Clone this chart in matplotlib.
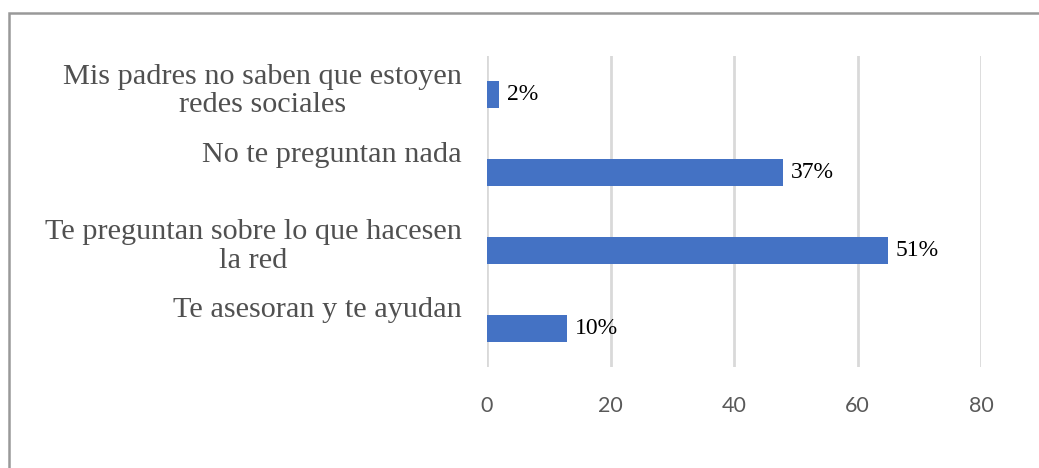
import matplotlib.pyplot as plt
from matplotlib.patches import Rectangle

categories = ["Mis padres no saben que estoyen\nredes sociales",
              "No te preguntan nada",
              "Te preguntan sobre lo que hacesen\nla red",
              "Te asesoran y te ayudan"]
values = [2, 48, 65, 13]
labels = ["2%", "37%", "51%", "10%"]
xticks = [0, 20, 40, 60, 80]

fig = plt.figure(figsize=(10.39, 4.68), dpi=100)
ax = fig.add_axes([487 / 1039, 1 - 367 / 468, (981 - 487) / 1039, (367 - 56) / 468])

# first category on top
ypos = list(range(len(categories)))[::-1]
ax.barh(ypos, values, height=0.35, color="#4472C4", zorder=3)

for y, v, lab in zip(ypos, values, labels):
    ax.text(v + 1.2, y, lab, va="center", ha="left", fontsize=17,
            family="Liberation Serif", color="black")

for y, cat in zip(ypos, categories):
    ax.text(-4.1, y + 0.40, cat, va="top", ha="right", fontsize=21.8,
            family="Liberation Serif", color="#505050", linespacing=1.13,
            multialignment="center")

ax.set_xlim(0, 80)
ax.set_ylim(-0.5, 3.5)
ax.set_xticks(xticks)
ax.set_yticks([])
ax.grid(axis="x", color="#d9d9d9", linewidth=2, zorder=0)
ax.tick_params(axis="x", length=0, pad=21, labelsize=15.5, labelcolor="#595959")
for t in ax.get_xticklabels():
    t.set_family("Lato")
for s in ax.spines.values():
    s.set_visible(False)

# outer chart border (right and bottom fall outside the image)
fig.patches.append(Rectangle((9 / 1039, -0.1), 1.2, 1 - 13 / 468 + 0.1,
                             transform=fig.transFigure, fill=False,
                             edgecolor="#999999", linewidth=1.8))

fig.savefig("out.png", dpi=100)
